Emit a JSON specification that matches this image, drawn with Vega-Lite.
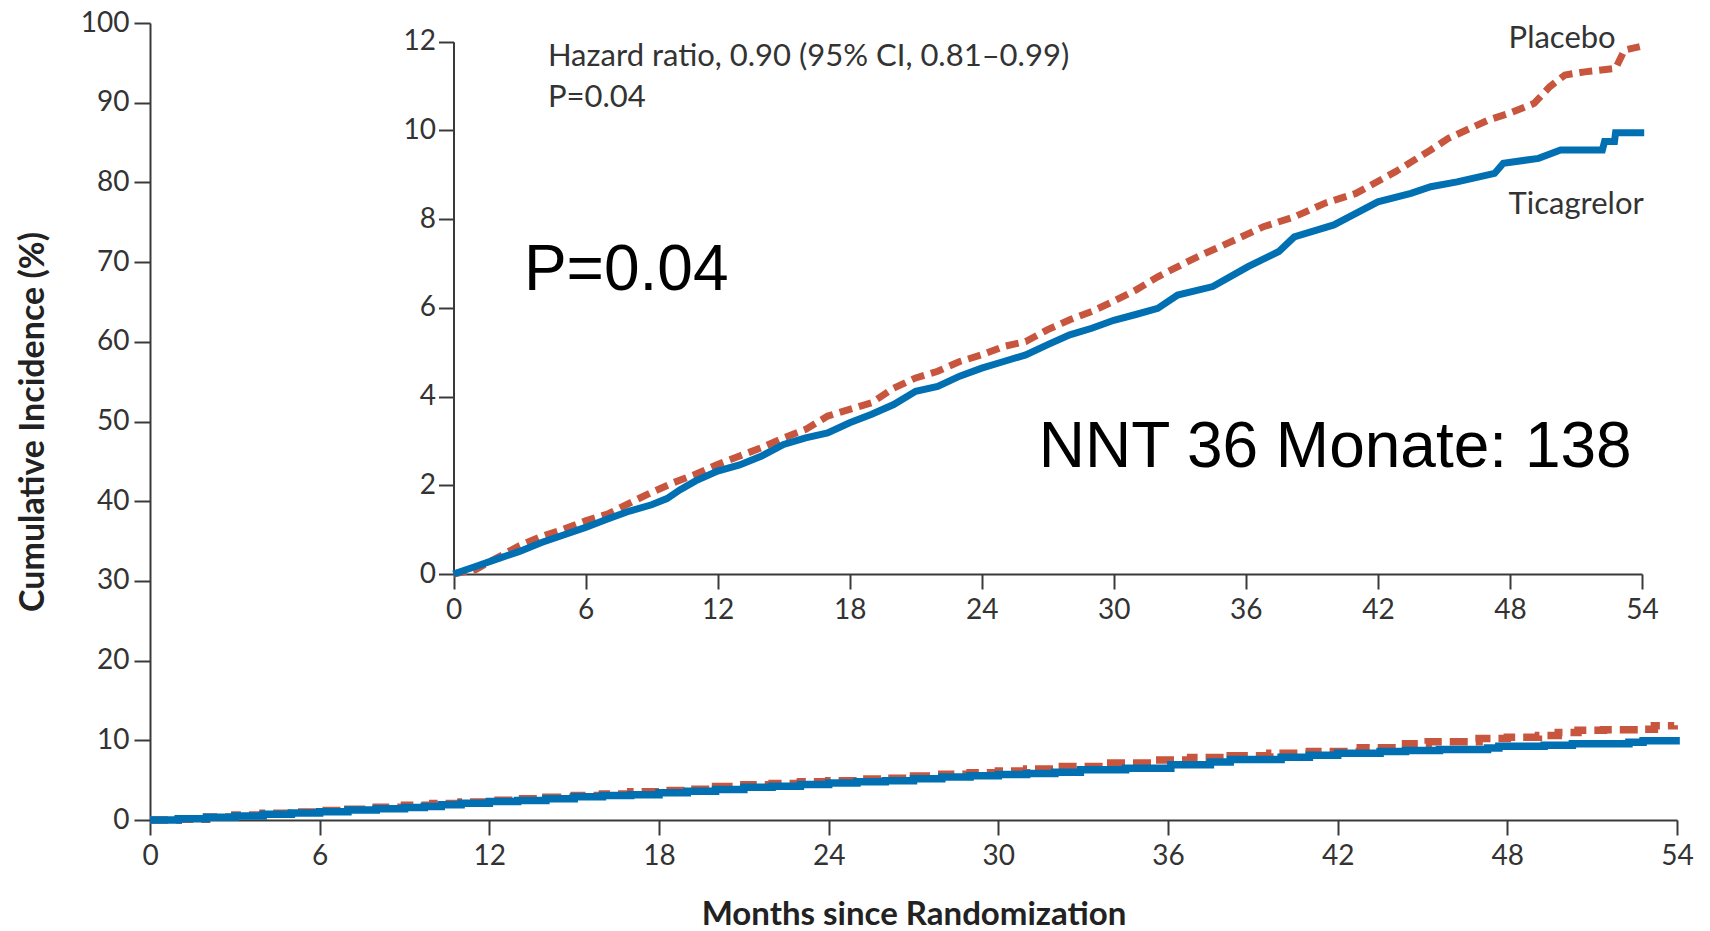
{
  "$schema": "https://vega.github.io/schema/vega-lite/v6.json",
  "autosize": {"type": "none"},
  "padding": {"left": 150, "top": 23, "right": 33, "bottom": 111},
  "width": 1527,
  "height": 797,
  "background": "white",
  "config": {
    "view": {"stroke": null},
    "axis": {
      "grid": false,
      "domainColor": "#3a3a3a",
      "domainWidth": 2,
      "tickColor": "#3a3a3a",
      "tickWidth": 2,
      "labelColor": "#333333",
      "labelFont": "Lato",
      "labelFontSize": 28,
      "labelFlush": false,
      "labelOverlap": false,
      "labelBound": false,
      "titleFont": "Lato",
      "titleColor": "#222222"
    }
  },
  "datasets": {
    "tic": [
      {"month": 0, "pct": 0}, {"month": 1, "pct": 0.17}, {"month": 2, "pct": 0.34}, {"month": 3, "pct": 0.51},
      {"month": 4, "pct": 0.71}, {"month": 5, "pct": 0.88}, {"month": 6, "pct": 1.05}, {"month": 7, "pct": 1.24},
      {"month": 8, "pct": 1.42}, {"month": 9, "pct": 1.56}, {"month": 9.7, "pct": 1.7}, {"month": 10.3, "pct": 1.9},
      {"month": 11, "pct": 2.1}, {"month": 12, "pct": 2.32}, {"month": 13, "pct": 2.46}, {"month": 14, "pct": 2.66},
      {"month": 15, "pct": 2.92}, {"month": 16, "pct": 3.07}, {"month": 17, "pct": 3.18}, {"month": 18, "pct": 3.41},
      {"month": 19, "pct": 3.6}, {"month": 20, "pct": 3.82}, {"month": 21, "pct": 4.12}, {"month": 22, "pct": 4.23},
      {"month": 23, "pct": 4.46}, {"month": 24, "pct": 4.64}, {"month": 25, "pct": 4.79}, {"month": 26, "pct": 4.94},
      {"month": 27, "pct": 5.17}, {"month": 28, "pct": 5.39}, {"month": 29, "pct": 5.54}, {"month": 30, "pct": 5.72},
      {"month": 31, "pct": 5.85}, {"month": 32, "pct": 5.99}, {"month": 32.9, "pct": 6.29}, {"month": 34.5, "pct": 6.48},
      {"month": 36.1, "pct": 6.93}, {"month": 37.5, "pct": 7.27}, {"month": 38.2, "pct": 7.6}, {"month": 40, "pct": 7.87},
      {"month": 41, "pct": 8.13}, {"month": 42, "pct": 8.39}, {"month": 43.5, "pct": 8.58}, {"month": 44.4, "pct": 8.73},
      {"month": 45.6, "pct": 8.84}, {"month": 47.3, "pct": 9.03}, {"month": 47.7, "pct": 9.26}, {"month": 49.3, "pct": 9.37},
      {"month": 50.3, "pct": 9.56}, {"month": 52.2, "pct": 9.56}, {"month": 52.3, "pct": 9.75}, {"month": 52.75, "pct": 9.75},
      {"month": 52.8, "pct": 9.95}, {"month": 54.1, "pct": 9.95}
    ],
    "pla": [
      {"month": 0, "pct": 0}, {"month": 1, "pct": 0.1}, {"month": 2, "pct": 0.37}, {"month": 3, "pct": 0.64},
      {"month": 4, "pct": 0.85}, {"month": 5, "pct": 1.01}, {"month": 6, "pct": 1.2}, {"month": 7, "pct": 1.35},
      {"month": 8, "pct": 1.6}, {"month": 9, "pct": 1.84}, {"month": 10, "pct": 2.06}, {"month": 11, "pct": 2.25},
      {"month": 12, "pct": 2.47}, {"month": 13, "pct": 2.66}, {"month": 14, "pct": 2.85}, {"month": 15, "pct": 3.07},
      {"month": 16, "pct": 3.26}, {"month": 17, "pct": 3.56}, {"month": 18, "pct": 3.71}, {"month": 19, "pct": 3.86},
      {"month": 20, "pct": 4.19}, {"month": 21, "pct": 4.42}, {"month": 22, "pct": 4.57}, {"month": 23, "pct": 4.79},
      {"month": 24, "pct": 4.94}, {"month": 25, "pct": 5.13}, {"month": 26, "pct": 5.24}, {"month": 27, "pct": 5.51},
      {"month": 28, "pct": 5.73}, {"month": 29, "pct": 5.92}, {"month": 30, "pct": 6.15}, {"month": 31, "pct": 6.4},
      {"month": 32, "pct": 6.7}, {"month": 33.8, "pct": 7.15}, {"month": 35.5, "pct": 7.53}, {"month": 36.8, "pct": 7.83},
      {"month": 38.2, "pct": 8.05}, {"month": 39.6, "pct": 8.36}, {"month": 41, "pct": 8.58}, {"month": 42.8, "pct": 9.07},
      {"month": 44.4, "pct": 9.56}, {"month": 45.2, "pct": 9.82}, {"month": 47, "pct": 10.23}, {"month": 48, "pct": 10.39},
      {"month": 49.1, "pct": 10.61}, {"month": 49.8, "pct": 10.98}, {"month": 50.5, "pct": 11.25}, {"month": 51.4, "pct": 11.32},
      {"month": 52.8, "pct": 11.4}, {"month": 53.2, "pct": 11.81}, {"month": 53.9, "pct": 11.89}
    ],
    "notes": [
      {"month": 4.29, "pct": 11.66, "label": "Hazard ratio, 0.90 (95% CI, 0.81–0.99)"},
      {"month": 4.29, "pct": 10.74, "label": "P=0.04"},
      {"month": 47.94, "pct": 12.05, "label": "Placebo"},
      {"month": 47.94, "pct": 8.31, "label": "Ticagrelor"}
    ],
    "big": [
      {"month": 3.2, "pct": 6.83, "label": "P=0.04"},
      {"month": 26.59, "pct": 2.84, "label": "NNT 36 Monate: 138"}
    ]
  },
  "layer": [
    {
      "encoding": {
        "x": {
          "field": "month", "type": "quantitative",
          "scale": {"domain": [0, 54], "nice": false, "zero": false},
          "axis": {
            "orient": "bottom", "values": [0, 6, 12, 18, 24, 30, 36, 42, 48, 54],
            "tickSize": 15, "labelPadding": 7,
            "title": "Months since Randomization", "titleFontSize": 33, "titleFontWeight": "bold", "titlePadding": 28
          }
        },
        "y": {
          "field": "pct", "type": "quantitative",
          "scale": {"domain": [0, 100], "nice": false},
          "axis": {
            "orient": "left", "values": [0, 10, 20, 30, 40, 50, 60, 70, 80, 90, 100],
            "tickSize": 16, "labelPadding": 5,
            "title": "Cumulative Incidence (%)", "titleFontSize": 34, "titleFontWeight": "bold", "titlePadding": 30
          }
        }
      },
      "layer": [
        {
          "data": {"name": "pla"},
          "mark": {"type": "line", "interpolate": "step-after", "color": "#C8553D", "strokeWidth": 7.5, "strokeDash": [18, 8]}
        },
        {
          "data": {"name": "tic"},
          "mark": {"type": "line", "interpolate": "step-after", "color": "#0070B2", "strokeWidth": 7.5}
        }
      ]
    },
    {
      "encoding": {
        "x": {
          "field": "month", "type": "quantitative",
          "scale": {"domain": [0, 54], "nice": false, "zero": false, "range": [303.5, 1492]},
          "axis": {
            "orient": "bottom", "offset": -246, "values": [0, 6, 12, 18, 24, 30, 36, 42, 48, 54],
            "tickSize": 15, "labelPadding": 7, "title": null
          }
        },
        "y": {
          "field": "pct", "type": "quantitative",
          "scale": {"domain": [0, 12], "nice": false, "range": [551, 18.7]},
          "axis": {
            "orient": "left", "offset": -303.5, "values": [0, 2, 4, 6, 8, 10, 12],
            "tickSize": 15, "labelPadding": 3, "title": null
          }
        }
      },
      "layer": [
        {
          "data": {"name": "pla"},
          "mark": {"type": "line", "color": "#C8553D", "strokeWidth": 7, "strokeDash": [13, 7]}
        },
        {
          "data": {"name": "tic"},
          "mark": {"type": "line", "color": "#0070B2", "strokeWidth": 7}
        },
        {
          "data": {"name": "notes"},
          "mark": {"type": "text", "align": "left", "baseline": "middle", "font": "Lato", "fontSize": 31, "color": "#333333"},
          "encoding": {"text": {"field": "label"}}
        },
        {
          "data": {"name": "big"},
          "mark": {"type": "text", "align": "left", "baseline": "middle", "font": "Liberation Sans", "fontSize": 64, "color": "#000000"},
          "encoding": {"text": {"field": "label"}}
        }
      ]
    }
  ],
  "resolve": {"scale": {"x": "independent", "y": "independent"}, "axis": {"x": "independent", "y": "independent"}}
}
